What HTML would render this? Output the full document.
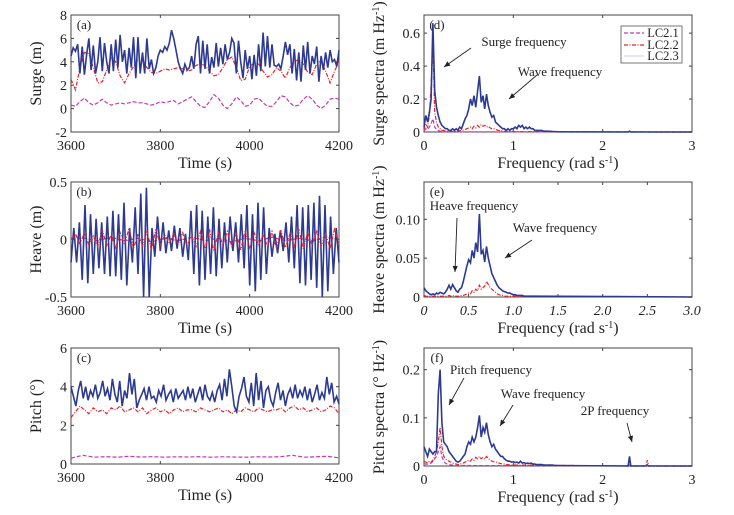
<!DOCTYPE html>
<html><head><meta charset="utf-8"><style>
body{margin:0;background:#fff;}
svg{display:block;font-family:"Liberation Serif",serif;}
</style></head><body>
<svg id="c" width="734" height="515" viewBox="0 0 734 515"></svg>
<script>
// ---- data ----
const surgeLC23 = [4.5,5.2,4.9,5.5,3.0,5.3,2.9,4.6,6.0,3.3,5.4,3.0,4.0,6.1,3.2,5.6,4.0,3.0,5.5,3.2,5.9,3.5,6.3,4.0,5.0,3.0,5.2,3.5,6.1,2.6,6.1,3.0,4.8,3.0,6.0,3.4,4.2,3.0,3.5,4.5,5.0,4.8,5.3,5.0,5.6,6.7,6.0,5.0,4.0,3.4,3.0,3.8,3.3,3.5,4.5,3.4,5.5,6.2,3.0,5.8,3.4,5.5,3.0,4.4,3.5,5.6,3.6,5.2,3.8,5.5,4.2,4.8,6.0,5.6,3.0,5.8,4.0,2.6,5.0,3.4,4.5,2.5,4.6,2.8,5.5,3.2,6.5,3.6,6.2,3.5,5.5,3.7,3.6,3.8,3.4,4.5,5.7,4.6,5.5,3.0,5.1,2.4,4.8,2.3,5.4,3.3,5.7,3.0,4.5,3.8,5.3,2.3,4.5,3.3,4.8,3.5,5.0,4.0,4.2,3.6,5.0];
const surgeLC22 = [2.5,1.6,3.5,4.8,4.7,3.5,2.2,2.3,3.3,4.4,4.0,2.8,2.2,3.0,3.6,4.2,4.1,3.5,3.1,3.0,3.2,3.4,3.3,3.4,3.5,3.4,3.2,3.3,3.7,3.8,3.7,3.2,2.8,2.9,3.5,4.2,4.4,3.5,2.4,2.5,3.6,3.9,3.8,3.2,2.7,2.9,3.5,3.2,2.6,3.5,4.0,4.2,3.8,3.1,2.9,3.8,4.1,3.2,2.2,3.2,4.0];
const surgeLC21 = [0.3,0.2,0.6,0.9,0.5,0.3,0.5,0.8,0.5,0.3,0.4,0.5,0.4,0.5,0.6,0.5,0.5,0.4,0.3,0.4,0.6,0.5,0.6,0.7,0.4,0.6,0.8,1.0,0.6,0.2,0.1,0.6,1.2,0.9,0.3,0.0,0.4,1.0,0.7,0.2,0.3,0.8,0.9,0.5,0.2,0.2,0.6,1.1,1.0,0.5,0.2,0.3,0.8,1.1,0.8,0.3,0.0,0.3,0.8,0.9,0.8];
const heaveLC23 = [-0.2,0.1,-0.2,0.15,-0.35,0.3,-0.38,0.22,-0.3,0.18,-0.25,0.15,-0.3,0.2,-0.32,0.25,-0.32,0.22,-0.35,0.32,-0.4,0.1,-0.2,0.28,-0.3,0.4,-0.5,0.45,-0.5,0.1,-0.15,0.2,-0.1,0.15,-0.12,0.08,-0.1,0.12,-0.08,0.1,-0.15,0.05,-0.18,0.25,-0.3,0.3,-0.4,0.25,-0.35,0.2,-0.3,0.28,-0.32,0.18,-0.25,0.15,-0.2,0.2,-0.1,0.15,-0.2,0.22,-0.25,0.3,-0.4,0.22,-0.45,0.32,-0.35,0.28,-0.3,0.1,-0.15,0.05,-0.12,0.08,-0.1,0.15,-0.2,0.2,-0.25,0.3,-0.38,0.28,-0.4,0.3,-0.35,0.32,-0.42,0.38,-0.5,0.3,-0.45,0.2,-0.3,0.1,-0.2];
const heaveLC22 = [0,0.05,-0.04,0.06,-0.05,0.03,-0.06,0.08,-0.05,0.04,-0.07,0.06,-0.04,0.1,-0.08,0.05,-0.06,0.07,-0.09,0.09,-0.05,0.04,-0.03,0.05,-0.04,0.06,-0.05,0.03,-0.06,0.07,-0.08,0.09,-0.1,0.06,-0.05,0.07,-0.06,0.05,-0.09,0.08,-0.07,0.06,-0.05,0.04,-0.06,0.07,-0.08,0.08,-0.07,0.05,-0.06,0.09,-0.08,0.06,-0.05,0.07,-0.06,0.05,-0.08,0.09,-0.04];
const heaveLC21 = [0,0.01,-0.01,0.02,-0.01,0.01,-0.02,0.01,-0.01,0.02,-0.01,0.01,-0.02,0.01,-0.01,0.02,-0.01,0.01,-0.01,0.02,0];
const pitchLC23 = [4.0,3.5,3.0,3.8,4.3,3.4,4.0,3.3,3.8,3.5,4.1,3.4,3.7,4.3,3.5,3.9,3.3,4.4,3.6,3.2,4.3,3.0,3.8,3.4,4.7,3.6,4.4,2.9,3.3,3.6,3.9,3.3,4.0,3.4,3.5,3.2,3.8,3.5,4.1,3.3,3.6,3.8,3.2,3.9,3.4,3.6,3.8,3.3,4.0,3.4,3.9,3.2,3.6,4.0,3.3,4.1,3.5,3.3,3.7,3.2,3.8,4.1,3.3,4.4,3.5,4.9,4.0,3.0,2.7,3.5,3.9,4.5,3.5,3.2,4.2,3.0,4.7,3.3,4.3,2.9,3.8,4.0,3.3,3.0,3.7,4.2,3.3,3.8,3.0,3.6,3.9,3.4,4.1,3.4,3.8,3.5,4.0,3.3,3.9,3.2,3.6,4.1,3.3,3.7,3.4,4.5,3.6,4.2,3.2,3.5,3.1];
const pitchLC22 = [2.4,2.7,3.0,2.8,2.6,2.9,2.7,2.8,2.6,2.9,2.8,3.0,2.7,2.8,2.9,2.7,2.9,2.6,2.8,2.9,2.7,2.8,2.6,2.8,2.9,2.7,2.8,2.8,2.7,2.9,2.8,2.7,2.8,2.9,2.7,2.8,2.6,2.8,2.7,2.9,2.8,2.7,2.9,2.8,2.7,2.8,2.8,2.9,2.7,2.9,3.0,2.8,2.9,2.7,2.8,2.9,2.7,2.8,3.0,2.9,2.6];
const pitchLC21 = [0.3,0.45,0.35,0.38,0.35,0.4,0.36,0.38,0.35,0.37,0.36,0.38,0.35,0.37,0.36,0.35,0.37,0.36,0.38,0.45,0.35,0.37,0.4,0.32];
// spectra: frequency step 0.02 rad/s from 0
const surgeSpec23 = [0.03,0.1,0.06,0.12,0.2,0.66,0.25,0.15,0.1,0.06,0.04,0.03,0.02,0.02,0.01,0.01,0.02,0.01,0.02,0.01,0.03,0.02,0.05,0.08,0.1,0.14,0.2,0.16,0.22,0.15,0.25,0.34,0.18,0.22,0.14,0.23,0.16,0.12,0.09,0.1,0.06,0.05,0.04,0.03,0.02,0.02,0.01,0.02,0.01,0.02,0.02,0.03,0.02,0.04,0.03,0.04,0.02,0.03,0.02,0.03,0.02,0.02,0.01,0.01,0.01,0.01,0.01,0.005,0.005,0.005,0.004,0.004,0.003,0.002,0.002,0.001];
const surgeSpec22 = [0.01,0.05,0.03,0.1,0.28,0.54,0.12,0.06,0.03,0.02,0.01,0.01,0.005,0.005,0.004,0.003,0.004,0.003,0.005,0.004,0.008,0.01,0.012,0.015,0.02,0.025,0.03,0.02,0.035,0.025,0.04,0.03,0.045,0.035,0.04,0.03,0.035,0.025,0.02,0.02,0.015,0.012,0.01,0.008,0.006,0.005,0.004,0.004,0.003,0.003,0.003,0.002];
const surgeSpec21 = [0.005,0.02,0.015,0.03,0.05,0.08,0.03,0.015,0.01,0.005,0.003,0.002,0.002,0.001,0.001,0.001];
const heaveSpec23 = [0.012,0.008,0.006,0.004,0.003,0.004,0.003,0.005,0.004,0.006,0.005,0.004,0.006,0.01,0.015,0.01,0.016,0.012,0.008,0.006,0.01,0.012,0.02,0.03,0.04,0.048,0.044,0.06,0.05,0.07,0.058,0.107,0.055,0.06,0.045,0.065,0.05,0.04,0.03,0.025,0.02,0.015,0.012,0.01,0.008,0.007,0.006,0.005,0.005,0.004,0.003,0.003,0.002,0.002,0.002,0.002,0.001,0.001,0.001,0.001,0.001];
const heaveSpec22 = [0.002,0.001,0.001,0.001,0.001,0.001,0.001,0.001,0.001,0.001,0.001,0.001,0.001,0.001,0.002,0.001,0.002,0.001,0.001,0.001,0.001,0.002,0.002,0.003,0.004,0.005,0.004,0.008,0.006,0.01,0.008,0.015,0.01,0.012,0.014,0.02,0.016,0.012,0.01,0.008,0.006,0.004,0.003,0.002,0.002,0.001];
const pitchSpec23 = [0.04,0.03,0.02,0.035,0.03,0.025,0.03,0.03,0.15,0.2,0.09,0.05,0.045,0.04,0.03,0.025,0.02,0.015,0.01,0.008,0.01,0.015,0.02,0.025,0.04,0.05,0.045,0.06,0.05,0.06,0.08,0.105,0.06,0.08,0.07,0.09,0.065,0.05,0.04,0.045,0.035,0.03,0.025,0.02,0.02,0.015,0.012,0.01,0.01,0.008,0.009,0.007,0.008,0.006,0.01,0.006,0.007,0.005,0.006,0.005,0.006,0.004,0.004,0.003,0.003,0.003,0.003,0.002,0.002,0.002,0.002,0.002,0.002,0.001,0.001,0.001];
const pitchSpec22 = [0.01,0.008,0.006,0.01,0.008,0.012,0.02,0.03,0.05,0.08,0.04,0.02,0.015,0.012,0.01,0.008,0.006,0.005,0.004,0.003,0.004,0.005,0.006,0.008,0.01,0.012,0.01,0.015,0.012,0.018,0.015,0.02,0.015,0.018,0.014,0.02,0.016,0.012,0.01,0.009,0.008,0.007,0.006,0.005,0.004,0.004,0.003,0.003,0.002,0.002,0.002];
const pitchSpec21 = [0.005,0.004,0.004,0.005,0.006,0.01,0.015,0.02,0.03,0.04,0.02,0.01,0.006,0.004,0.003,0.002,0.002,0.001];
const specStep = 0.02;
const pitchPeakFreqs = [2.3, 2.5];
const pitchPeakLC23 = [0.02, 0.002];
const pitchPeakLC22 = [0.002, 0.012];
const timeTicks = [3600,3800,4000,4200];
const freqTicks = [0,1,2,3];
const freqTicksE = ["0","0.5","1.0","1.5","2.0","2.5","3.0"];

// ---- drawing ----
const NS="http://www.w3.org/2000/svg";
const svg=document.getElementById('c');
function el(tag,attrs,parent){const e=document.createElementNS(NS,tag);for(const k in attrs)e.setAttribute(k,attrs[k]);(parent||svg).appendChild(e);return e;}
function txt(s,x,y,opts,name,parent){const t=el('text',Object.assign({x:x,y:y,'font-size':13,fill:'#222','text-anchor':'middle'},opts||{}),parent);t.textContent=s;


return t;}
const BLUE='#2d3a92', RED='#e8232b', MAG='#c23ab0';
const styles={
 LC23:{stroke:BLUE,'stroke-width':1.6,fill:'none'},
 LC22:{stroke:RED,'stroke-width':1.2,fill:'none','stroke-dasharray':'4 1.5 1 1.5'},
 LC21:{stroke:MAG,'stroke-width':1.2,fill:'none','stroke-dasharray':'4 2'}
};
function panel(name,x0,x1,y0,y1,xmin,xmax,ymin,ymax){
 const g=el('g',{});
 
 
 const sx=v=>x0+(v-xmin)/(xmax-xmin)*(x1-x0);
 const sy=v=>y1-(v-ymin)/(ymax-ymin)*(y1-y0);
 return {g,sx,sy,x0,x1,y0,y1};
}
function frame(p,xt,xl,yt,yl,xlabel,ylabel,tag,yoff){
 const r=el('rect',{x:p.x0,y:p.y0,width:p.x1-p.x0,height:p.y1-p.y0,fill:'none',stroke:'#444','stroke-width':1},p.g);
 
 
 xt.forEach((v,i)=>{const X=p.sx(v);
  el('line',{x1:X,x2:X,y1:p.y1,y2:p.y1-3,stroke:'#444'},p.g);el('line',{x1:X,x2:X,y1:p.y0,y2:p.y0+3,stroke:'#444'},p.g);
  txt(xl[i],X,p.y1+18,{'font-size':14,'font-style':xl.italic?'italic':'normal'},'x-tick-label',p.g);});
 yt.forEach((v,i)=>{const Y=p.sy(v);
  el('line',{x1:p.x0,x2:p.x0+3,y1:Y,y2:Y,stroke:'#444'},p.g);el('line',{x1:p.x1,x2:p.x1-3,y1:Y,y2:Y,stroke:'#444'},p.g);
  txt(yl[i],p.x0-4,Y+5,{'font-size':14,'text-anchor':'end'},'y-tick-label',p.g);});
 txt('',(p.x0+p.x1)/2,p.y1+36,{'font-size':16},'x-axis-title',p.g).innerHTML=xlabel.h;
 const yx=p.x0-yoff, yy=(p.y0+p.y1)/2;
 const t=txt('',yx,yy,{'font-size':16,transform:`rotate(-90 ${yx} ${yy})`},'y-axis-title',p.g);t.innerHTML=ylabel;
 txt(tag,p.x0+13,p.y0+14,{'font-size':13},'panel-label',p.g);
}
function series(p,vals,xmin,step,style,name){
 const pts=vals.map((v,i)=>p.sx(xmin+i*step).toFixed(1)+','+p.sy(v).toFixed(1)).join(' ');
 const l=el('polyline',Object.assign({points:pts},style),p.g);
 
 
 return l;
}
function tseries(p,vals,style,name){return series(p,vals,3600,600/(vals.length-1),style,name);}
function spec(p,vals,style,name,extraF,extraV){
 const pts=vals.map((v,i)=>[i*specStep,v]);
 if(extraF){extraF.forEach((f,i)=>{pts.push([f-0.015,0]);pts.push([f,extraV[i]]);pts.push([f+0.015,0]);});}
 pts.push([3,0]);
 const l=el('polyline',Object.assign({points:pts.map(q=>p.sx(q[0]).toFixed(1)+','+p.sy(q[1]).toFixed(1)).join(' ')},style),p.g);
 
 
}
function arrow(p,x1,y1,x2,y2){
 el('line',{x1,y1,x2,y2,stroke:'#222','stroke-width':0.9},p.g);
 const a=Math.atan2(y2-y1,x2-x1),L=6,w=2.6;
 const bx=x2-L*Math.cos(a),by=y2-L*Math.sin(a);
 const h=el('polygon',{points:`${x2},${y2} ${bx-w*Math.sin(a)},${by+w*Math.cos(a)} ${bx+w*Math.sin(a)},${by-w*Math.cos(a)}`,fill:'#222'},p.g);
 
 
}
const timeLab={h:'Time (s)'};
const freqLab={h:'Frequency (rad s<tspan dy="-5" font-size="10">-1</tspan><tspan dy="5">)</tspan>'};
const sup='<tspan dy="-5" font-size="10">-1</tspan><tspan dy="5">)</tspan>';

// (a)
let p=panel('surge-time-panel',71,339,15,132,3600,4200,-2,8);
frame(p,timeTicks,timeTicks.map(String),[-2,0,2,4,6,8],['-2','0','2','4','6','8'],timeLab,'Surge (m)','(a)',30);
tseries(p,surgeLC21,styles.LC21,'surge-lc21-line');tseries(p,surgeLC22,styles.LC22,'surge-lc22-line');tseries(p,surgeLC23,styles.LC23,'surge-lc23-line');
// (b)
p=panel('heave-time-panel',71,339,182,297,3600,4200,-0.5,0.5);
frame(p,timeTicks,timeTicks.map(String),[-0.5,0,0.5],['-0.5','0','0.5'],timeLab,'Heave (m)','(b)',30);
tseries(p,heaveLC21,styles.LC21,'heave-lc21-line');tseries(p,heaveLC23,styles.LC23,'heave-lc23-line');tseries(p,heaveLC22,styles.LC22,'heave-lc22-line');
// (c)
p=panel('pitch-time-panel',71,339,348,464,3600,4200,0,6);
frame(p,timeTicks,timeTicks.map(String),[0,2,4,6],['0','2','4','6'],timeLab,'Pitch (°)','(c)',30);
tseries(p,pitchLC21,styles.LC21,'pitch-lc21-line');tseries(p,pitchLC22,styles.LC22,'pitch-lc22-line');tseries(p,pitchLC23,styles.LC23,'pitch-lc23-line');
// (d)
p=panel('surge-spectrum-panel',424,692,15,132,0,3,0,0.71);
frame(p,freqTicks,freqTicks.map(String),[0,0.2,0.4,0.6],['0','0.2','0.4','0.6'],freqLab,'Surge spectra (m Hz'+sup,'(d)',40);
spec(p,surgeSpec21,styles.LC21,'surge-spectrum-lc21');spec(p,surgeSpec22,styles.LC22,'surge-spectrum-lc22');spec(p,surgeSpec23,styles.LC23,'surge-spectrum-lc23',[2.3],[0.005]);
txt('Surge frequency',524,46,{'font-size':13},'surge-frequency-annotation',p.g);arrow(p,471,48,444,67);
txt('Wave frequency',560,76,{'font-size':13},'wave-frequency-annotation',p.g);arrow(p,537,75,509,99);
const lg=el('g',{},p.g);
el('rect',{x:621,y:26,width:61,height:37,fill:'#fff',stroke:'#555','stroke-width':0.8},lg);
[['LC2.1',styles.LC21,37],['LC2.2',styles.LC22,49],['LC2.3',{stroke:'#c8cce0','stroke-width':1,fill:'none'},60]].forEach(e=>{
 const gi=el('g',{},lg);
 el('line',Object.assign({x1:624,x2:644,y1:e[2]-4,y2:e[2]-4},e[1]),gi);
 txt(e[0],663,e[2],{'font-size':12.5},'legend-label',gi);});
// (e)
p=panel('heave-spectrum-panel',424,692,182,297,0,3,0,0.148);
const ef=[0,0.5,1,1.5,2,2.5,3];const eLab=freqTicksE.slice();eLab.italic=true;
frame(p,ef,eLab,[0,0.05,0.10],['0','0.05','0.10'],freqLab,'Heave spectra (m Hz'+sup,'(e)',40);
spec(p,heaveSpec22,styles.LC22,'heave-spectrum-lc22');spec(p,heaveSpec23,styles.LC23,'heave-spectrum-lc23');
txt('Heave frequency',474,210,{'font-size':13},'heave-frequency-annotation',p.g);arrow(p,457,218,455,272);
txt('Wave frequency',555,232,{'font-size':13},'wave-frequency-annotation',p.g);arrow(p,532,240,505,258);
// (f)
p=panel('pitch-spectrum-panel',424,692,348,466,0,3,0,0.245);
frame(p,freqTicks,freqTicks.map(String),[0,0.1,0.2],['0','0.1','0.2'],freqLab,'Pitch spectra (° Hz'+sup,'(f)',40);
spec(p,pitchSpec21,styles.LC21,'pitch-spectrum-lc21');spec(p,pitchSpec22,styles.LC22,'pitch-spectrum-lc22',pitchPeakFreqs,pitchPeakLC22);spec(p,pitchSpec23,styles.LC23,'pitch-spectrum-lc23',pitchPeakFreqs,pitchPeakLC23);
txt('Pitch frequency',491,374,{'font-size':13},'pitch-frequency-annotation',p.g);arrow(p,464,378,449,405);
txt('Wave frequency',543,398,{'font-size':13},'wave-frequency-annotation',p.g);arrow(p,513,405,500,426);
txt('2P frequency',615,415,{'font-size':13},'2p-frequency-annotation',p.g);arrow(p,627,423,632,442);
</script>
</body></html>
